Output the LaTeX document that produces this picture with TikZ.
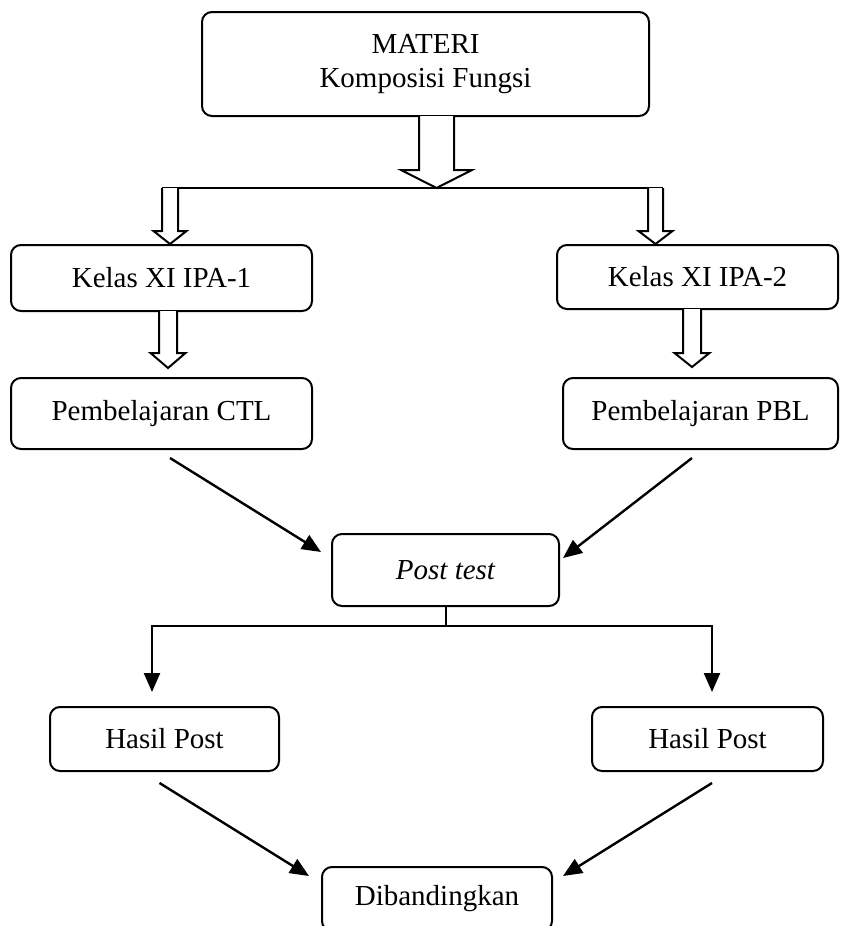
\documentclass[tikz,border=0pt]{standalone}
\usepackage{fontspec}
\setmainfont{Liberation Serif}
\usetikzlibrary{arrows.meta,calc}

\tikzset{
  box/.style={draw, line width=2pt, rounded corners=10pt, align=center, inner sep=0pt},
  arr/.style={line width=2.4pt, -{Triangle[length=19pt,width=16pt]}},
  plain/.style={line width=2pt}
}
% block arrow: x, top y, tip y, shaft half width, head half width, head length
\newcommand{\blockarrow}[6]{%
  \draw[plain, fill=white, line join=miter]
    ({#1-#4},#2) -- ({#1-#4},{#3-#6}) -- ({#1-#5},{#3-#6}) -- (#1,#3)
    -- ({#1+#5},{#3-#6}) -- ({#1+#4},{#3-#6}) -- ({#1+#4},#2);
}

\begin{document}
\begin{tikzpicture}[x=1pt,y=-1pt,font=\fontsize{29}{34}\selectfont]
  \useasboundingbox (0,0) rectangle (850,926);

  % boxes
  \node[box, minimum width=447pt, minimum height=104pt] (materi) at (425.5,64)
    {MATERI\\Komposisi Fungsi};
  \node[box, minimum width=301pt, minimum height=66pt] (kelasA) at (161.5,278) {Kelas XI IPA-1};
  \node[box, minimum width=281pt, minimum height=64pt] (kelasB) at (697.5,277) {Kelas XI IPA-2};
  \node[box, minimum width=301pt, minimum height=71pt] (ctl) at (161.5,413.5) {Pembelajaran CTL};
  \node[box, minimum width=275pt, minimum height=71pt] (pbl) at (700.5,413.5) {Pembelajaran PBL};
  \node[box, minimum width=227pt, minimum height=72pt] (post) at (445.5,570) {\itshape Post test};
  \node[box, minimum width=229pt, minimum height=64pt] (hasilA) at (164.5,739) {Hasil Post};
  \node[box, minimum width=231pt, minimum height=64pt] (hasilB) at (707.5,739) {Hasil Post};
  \node[box, minimum width=230pt, minimum height=64pt] (banding) at (437,899) {Dibandingkan};

  % block arrows
  \draw[plain] (162,188) -- (663,188);
  \blockarrow{436.5}{116}{188}{17.5}{35.5}{18}
  \blockarrow{170}{188}{244}{8}{16.5}{13}
  \blockarrow{655.5}{188}{244}{7.5}{17}{13}
  \blockarrow{168}{311}{368}{9}{17.5}{15}
  \blockarrow{692}{309}{367}{9}{17.5}{14}

  % to post test
  \draw[arr] ($(ctl.south)+(8.5,8)$) -- ($(post.west)+(-10,-18)$);
  \draw[arr] ($(pbl.south)+(-8.5,8)$) -- ($(post.east)+(3,-12)$);

  % split
  \coordinate (split) at ($(post.south)+(0,19)$);
  \draw[plain] (post.south) -- (split);
  \draw[arr] (split) -| ($(hasilA.north)+(-12.5,-14)$);
  \draw[arr] (split) -| ($(hasilB.north)+(4.5,-14)$);

  % to dibandingkan
  \draw[arr] ($(hasilA.south)+(-5,11)$) -- ($(banding.north west)+(-12,10)$);
  \draw[arr] ($(hasilB.south)+(4.5,11)$) -- ($(banding.north east)+(10,10)$);
\end{tikzpicture}
\end{document}
